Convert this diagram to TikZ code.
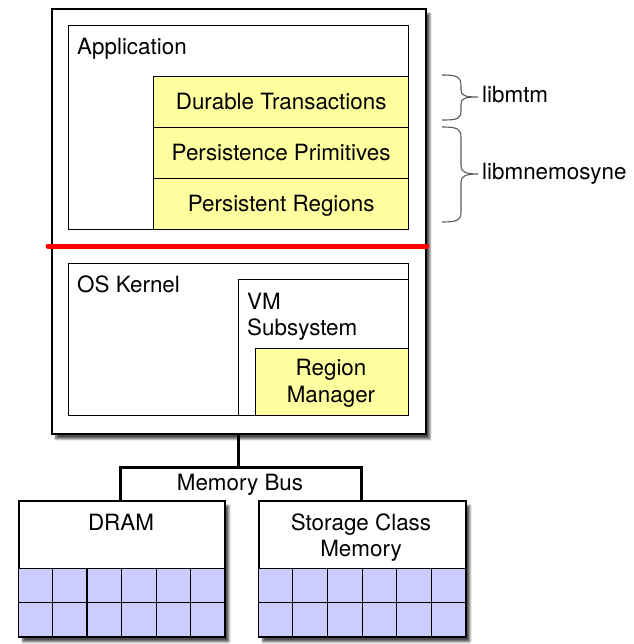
\documentclass[tikz,border=0pt]{standalone}
\usepackage{fontspec}
\setmainfont{TeX Gyre Heros}
\usetikzlibrary{shadows.blur,calc}
\definecolor{ylw}{RGB}{255,255,160}
\definecolor{lav}{RGB}{204,204,255}
\definecolor{bracegray}{RGB}{90,90,90}
\begin{document}
\begin{tikzpicture}[x=1pt,y=-1pt,
  font=\fontsize{22.4}{26}\selectfont,
  box/.style={draw=black,line width=1.3pt,fill=white,rectangle,inner sep=0pt,anchor=north west},
  outerbox/.style={box,line width=1.8pt,blur shadow={shadow xshift=4pt,shadow yshift=-5pt,shadow blur steps=8,shadow opacity=70}},
  membox/.style={box,line width=1.6pt,blur shadow={shadow xshift=4pt,shadow yshift=-5pt,shadow blur steps=8,shadow opacity=70}},
  ybox/.style={box,fill=ylw,align=center,text height=15.5pt,text depth=0pt},
  cellbox/.style={box,fill=lav,line width=1.2pt},
  lbl/.style={inner sep=0pt,anchor=base west},
  clbl/.style={inner sep=0pt,anchor=base},
  bus/.style={line width=3pt,line cap=rect},
  brc/.style={draw=bracegray,line width=1.1pt}]
\useasboundingbox (0,0) rectangle (633,644);
% top stack
\node[outerbox,minimum width=374pt,minimum height=425pt] (outer) at (51,8) {};
\node[box,minimum width=340pt,minimum height=204pt] (app) at (68,25) {};
\node[lbl] (apptxt) at (77,55) {Application};
\node[ybox,minimum width=255pt,minimum height=51pt] (dt) at (153,76) {Durable Transactions};
\node[ybox,minimum width=255pt,minimum height=51pt] (pp) at (153,127) {Persistence Primitives};
\node[ybox,minimum width=255pt,minimum height=51pt] (pr) at (153,178) {Persistent Regions};
% red boundary
\coordinate (redL) at (48,246);
\coordinate (redR) at (427,246);
\draw[red,line width=5pt,line cap=round] (redL) -- (redR);
% kernel
\node[box,minimum width=340pt,minimum height=152pt] (os) at (68,263) {};
\node[lbl] (ostxt) at (77,292) {OS Kernel};
\node[box,minimum width=170pt,minimum height=136pt] (vm) at (238,279) {};
\node[lbl] (vmtxt) at (247,309) {VM};
\node[lbl] (vmtxt2) at (247,335) {Subsystem};
\node[box,fill=ylw,minimum width=153pt,minimum height=67pt] (rm) at (255,348) {};
\node[clbl] (rmtxt1) at (331,375) {Region};
\node[clbl] (rmtxt2) at (331,402) {Manager};
% memories
\node[membox,minimum width=206pt,minimum height=136pt] (dram) at (18,500) {};
\node[membox,minimum width=207pt,minimum height=136pt] (scm) at (258,500) {};
\node[cellbox,minimum width=206pt,minimum height=68pt] (dramcells) at (18,568) {};
\node[cellbox,minimum width=207pt,minimum height=68pt] (scmcells) at (258,568) {};
\foreach \i in {1,...,5}{
  \draw[line width=1.2pt] ($(dramcells.north west)!\i/6!(dramcells.north east)$) -- ($(dramcells.south west)!\i/6!(dramcells.south east)$);
  \draw[line width=1.2pt] ($(scmcells.north west)!\i/6!(scmcells.north east)$) -- ($(scmcells.south west)!\i/6!(scmcells.south east)$);
}
\draw[line width=1.2pt] (dramcells.west) -- (dramcells.east);
\draw[line width=1.2pt] (scmcells.west) -- (scmcells.east);
\node[clbl] (dramtxt) at (121,530) {DRAM};
\node[clbl] (scmtxt1) at (361,530) {Storage Class};
\node[clbl] (scmtxt2) at (361,556) {Memory};
% bus
\coordinate (busL) at (120,467);
\coordinate (busR) at (361,467);
\coordinate (busM) at (238,467);
\draw[bus] (dram.north -| busL) -- (busL) -- (busR) -- (scm.north -| busR);
\draw[bus] (outer.south -| busM) -- (busM);
\node[clbl] (bustxt) at (240,490) {Memory Bus};
% braces
\draw[brc] (442,75) .. controls (458,75) and (461,77) .. (461,86) -- (461,90) .. controls (461,96) and (466,97) .. (478,97)
  .. controls (466,97) and (461,98) .. (461,104) -- (461,110) .. controls (461,119) and (458,120) .. (442,120);
\draw[brc] (442,127) .. controls (458,127) and (461,129) .. (461,138) -- (461,166) .. controls (461,172) and (466,174) .. (478,174)
  .. controls (466,174) and (461,176) .. (461,182) -- (461,212) .. controls (461,220) and (458,222) .. (442,222);
\node[lbl] (libmtm) at (482,103) {libmtm};
\node[lbl] (libmn) at (482,180) {libmnemosyne};
\end{tikzpicture}
\end{document}
